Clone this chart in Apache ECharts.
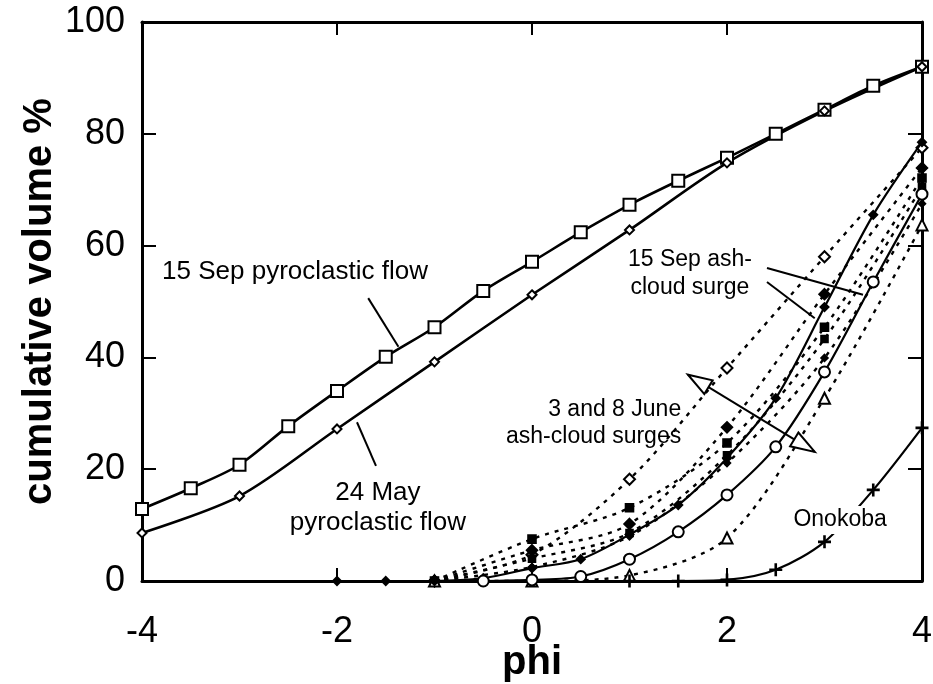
<!DOCTYPE html>
<html><head><meta charset="utf-8">
<script src="https://cdn.jsdelivr.net/npm/echarts@6/dist/echarts.min.js"></script>
<style>html,body{margin:0;padding:0;background:#fff}#c{width:933px;height:684px}</style>
</head><body><div id="c"></div>
<script>
// ---- data ----
const xTickValues = [-4, -2, 0, 2, 4];
const yTickValues = [0, 20, 40, 60, 80, 100];

const phiHalf = [-4, -3.5, -3, -2.5, -2, -1.5, -1, -0.5, 0, 0.5, 1, 1.5, 2, 2.5, 3, 3.5, 4];
const sep15Flow = [12.9, 16.6, 20.8, 27.7, 34.0, 40.1, 45.4, 51.9, 57.1, 62.4, 67.3, 71.6, 75.7, 80.0, 84.3, 88.6, 92.0];

const phiWhole = [-4, -3, -2, -1, 0, 1, 2, 3, 4];
const may24Flow = [8.6, 15.2, 27.2, 39.2, 51.2, 62.8, 74.8, 84.1, 92.0];

const phiSurgeA = [-2, -1.5, -1, -0.5, 0, 0.5, 1, 1.5, 2, 2.5, 3, 3.5, 4];
const sep15SurgeA = [0, 0, 0, 0.5, 2.3, 3.9, 8.3, 13.6, 22.0, 32.7, 49.0, 65.5, 78.5];

const phiSurgeB = [-0.5, 0, 0.5, 1, 1.5, 2, 2.5, 3, 3.5, 4];
const sep15SurgeB = [0, 0.2, 0.8, 3.9, 8.8, 15.4, 24.0, 37.4, 53.5, 69.2];

const phiJune = [-1, 0, 1, 2, 3, 4];
const juneOpenDiamond = [0, 4.7, 18.2, 38.1, 58.0, 77.5];
const juneFilledDiamond = [0, 5.5, 10.2, 27.5, 51.3, 73.9];
const juneSquareA = [0, 7.5, 13.1, 24.7, 45.4, 72.1];
const juneSquareB = [0, 4.0, 8.6, 22.5, 43.3, 70.5];
const juneSmall = [0, 2.5, 8.0, 21.1, 39.9, 67.5];
const juneTriangle = [0, 0, 1.0, 7.7, 32.7, 63.7];

const phiOnokoba = [1, 1.5, 2, 2.5, 3, 3.5, 4];
const onokoba = [0, 0, 0.2, 2.0, 7.0, 16.3, 27.4];

// ---- chart ----
const zip = (xs, ys) => xs.map((x, i) => [x, ys[i]]);
const FONT = '"Liberation Sans", Arial, Helvetica, sans-serif';
const plus = 'path://M4,0H6V4H10V6H6V10H4V6H0V4H4Z';

function solid(name, xs, ys, symbol, size, opts) {
  return Object.assign({
    name, type: 'line', data: zip(xs, ys), smooth: 0.3,
    symbol, symbolSize: size, z: 5,
    lineStyle: { color: '#000', width: 2.2 },
    itemStyle: { color: '#000', borderColor: '#000', borderWidth: 2 }
  }, opts || {});
}
function dashed(name, ys, symbol, size) {
  return {
    name, type: 'line', data: zip(phiJune, ys), smooth: 0.3,
    symbol, symbolSize: size, z: 3,
    lineStyle: { color: '#000', width: 2.4, type: [4, 6] },
    itemStyle: { color: '#000', borderColor: '#000', borderWidth: 1.6 }
  };
}

const chart = echarts.init(document.getElementById('c'), null, { renderer: 'canvas' });
const axisCommon = {
  type: 'value', min: -4, max: 4, interval: 2,
  axisLine: { show: true, onZero: false, lineStyle: { color: '#000', width: 3 } },
  axisTick: { show: true, inside: true, length: 13, lineStyle: { color: '#000', width: 2 } },
  splitLine: { show: false }
};
const yCommon = {
  type: 'value', min: 0, max: 100, interval: 20,
  axisLine: { show: true, onZero: false, lineStyle: { color: '#000', width: 3 } },
  axisTick: { show: true, inside: true, length: 14, lineStyle: { color: '#000', width: 2 } },
  splitLine: { show: false }
};

chart.setOption({
  animation: false,
  backgroundColor: '#fff',
  grid: { left: 142, right: 11, top: 22, bottom: 103, containLabel: false, outerBoundsMode: 'none' },
  xAxis: [
    Object.assign({}, axisCommon, {
      position: 'bottom', name: 'phi', nameLocation: 'middle', nameGap: 62, nameMoveOverlap: false,
      nameTextStyle: { fontFamily: FONT, fontSize: 40, fontWeight: 'bold', color: '#000' },
      axisLabel: { margin: 33, fontFamily: FONT, fontSize: 36, color: '#000',
        customValues: xTickValues }
    }),
    Object.assign({}, axisCommon, { position: 'top', axisLabel: { show: false } })
  ],
  yAxis: [
    Object.assign({}, yCommon, {
      position: 'left', name: 'cumulative volume %', nameLocation: 'middle', nameGap: 82, nameMoveOverlap: false,
      nameTextStyle: { fontFamily: FONT, fontSize: 40, fontWeight: 'bold', color: '#000' },
      axisLabel: { margin: 17, fontFamily: FONT, fontSize: 36, color: '#000' }
    }),
    Object.assign({}, yCommon, { position: 'right', axisLabel: { show: false } })
  ],
  series: [
    dashed('3 and 8 June (open diamond)', juneOpenDiamond, 'emptyDiamond', 11),
    dashed('3 and 8 June (filled diamond)', juneFilledDiamond, 'diamond', 11),
    dashed('3 and 8 June (square A)', juneSquareA, 'rect', 8),
    dashed('3 and 8 June (square B)', juneSquareB, 'rect', 7),
    dashed('3 and 8 June (small)', juneSmall, 'diamond', 7),
    dashed('3 and 8 June (triangle)', juneTriangle, 'emptyTriangle', 11),
    solid('15 Sep pyroclastic flow', phiHalf, sep15Flow, 'emptyRect', 12, { lineStyle: { color: '#000', width: 2.6 } }),
    solid('24 May pyroclastic flow', phiWhole, may24Flow, 'emptyDiamond', 9, { lineStyle: { color: '#000', width: 2.6 } }),
    solid('15 Sep ash-cloud surge A', phiSurgeA, sep15SurgeA, 'diamond', 8),
    solid('15 Sep ash-cloud surge B', phiSurgeB, sep15SurgeB, 'emptyCircle', 11, { itemStyle: { color: '#000', borderColor: '#000', borderWidth: 1.6 } }),
    solid('Onokoba', phiOnokoba, onokoba, plus, 13, { itemStyle: { color: '#000' } })
  ]
});

// ---- annotations (placed in data coordinates) ----
const P = (x, y) => chart.convertToPixel({ xAxisIndex: 0, yAxisIndex: 0 }, [x, y]);
function txt(x, y, text, size, align) {
  const p = P(x, y);
  return { type: 'text', z: 100, style: { text, x: p[0], y: p[1], font: size + 'px ' + FONT, fill: '#000', textAlign: align || 'center', textVerticalAlign: 'middle' } };
}
function seg(a, b, w) {
  const p = P(a[0], a[1]), q = P(b[0], b[1]);
  return { type: 'line', z: 100, shape: { x1: p[0], y1: p[1], x2: q[0], y2: q[1] }, style: { stroke: '#000', lineWidth: w || 2 } };
}
function arrowHead(tip, from) {
  const t = P(tip[0], tip[1]), f = P(from[0], from[1]);
  const dx = f[0] - t[0], dy = f[1] - t[1], L = Math.hypot(dx, dy);
  const ux = dx / L, uy = dy / L, nx = -uy, ny = ux, len = 24, w = 8;
  return { type: 'polygon', z: 101, shape: { points: [[t[0], t[1]], [t[0] + ux * len + nx * w, t[1] + uy * len + ny * w], [t[0] + ux * len - nx * w, t[1] + uy * len - ny * w]] },
    style: { fill: '#fff', stroke: '#000', lineWidth: 2 } };
}
const onoP = P(3.16, 10.9);
const arrA = [1.6, 36.9], arrB = [2.9, 23.1];
chart.setOption({
  graphic: [
    txt(-2.43, 55.3, '15 Sep pyroclastic flow', 26),
    seg([-1.68, 50.6], [-1.37, 41.9]),
    txt(-1.58, 15.7, '24 May', 26),
    txt(-1.58, 10.4, 'pyroclastic flow', 26),
    seg([-1.795, 28.4], [-1.6, 20.6]),
    txt(1.62, 57.4, '15 Sep ash-', 23),
    txt(1.62, 52.4, 'cloud surge', 23),
    seg([2.41, 56.0], [3.395, 51.2]),
    seg([2.41, 53.5], [2.90, 47.0]),
    txt(1.53, 30.6, '3 and 8 June', 23, 'right'),
    txt(1.53, 25.8, 'ash-cloud surges', 23, 'right'),
    seg(arrA, arrB),
    arrowHead(arrA, arrB),
    arrowHead(arrB, arrA),
    { type: 'rect', z: 99, shape: { x: onoP[0] - 50, y: onoP[1] - 14, width: 100, height: 28 }, style: { fill: '#fff' } },
    txt(3.16, 10.9, 'Onokoba', 23)
  ]
});
</script>
</body></html>
